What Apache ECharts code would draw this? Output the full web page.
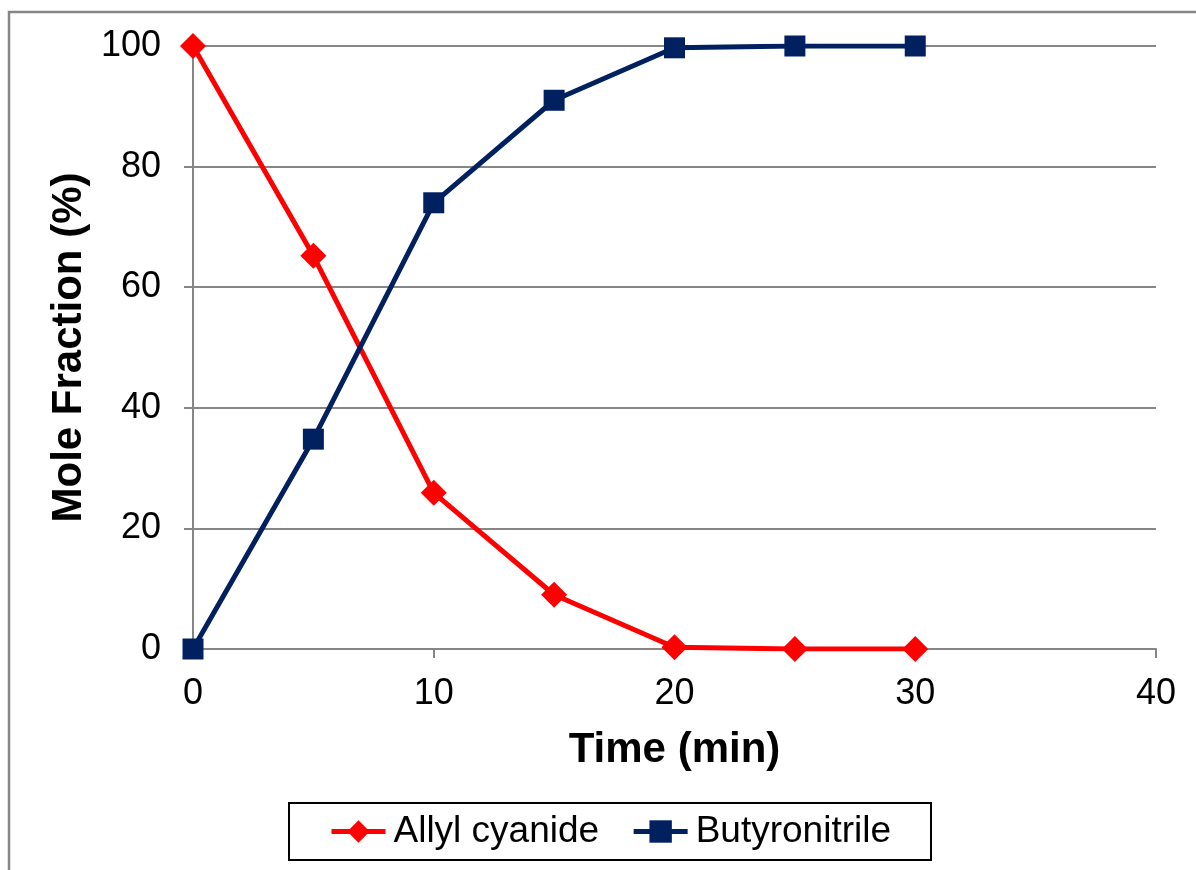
<!DOCTYPE html>
<html>
<head>
<meta charset="utf-8">
<script src="https://cdn.jsdelivr.net/npm/echarts@6/dist/echarts.min.js"></script>
<style>
	html, body { margin: 0; padding: 0; background: #fff; }
	#chart { width: 1196px; height: 870px; }
</style>
</head>
<body>
<div id="chart"></div>
<script>
	// time points (min)
	var times = [0, 5, 10, 15, 20, 25, 30];
	// mole fraction (%)
	var allylCyanide = [100, 65.2, 25.9, 9.0, 0.3, 0, 0];
	var butyronitrile = [0, 34.8, 74.0, 91.0, 99.7, 100, 100];

	function pairs(ys) {
		return times.map(function (t, i) { return [t, ys[i]]; });
	}

	var font = "'Liberation Sans', Arial, sans-serif";
	var myChart = echarts.init(document.getElementById('chart'), null, { renderer: 'canvas' });
	myChart.setOption({
		animation: false,
		backgroundColor: '#fff',
		textStyle: { fontFamily: font },
		graphic: [
			{
				type: 'rect',
				shape: { x: 9, y: 12, width: 1300, height: 1000 },
				style: { fill: 'none', stroke: '#868686', lineWidth: 2.5 },
				silent: true
			}
		],
		grid: {
			left: 193,
			right: 40,
			top: 46,
			bottom: 221
		},
		legend: {
			left: 289,
			top: 803,
			padding: [10, 40, 10, 40],
			itemGap: 32,
			itemWidth: 54,
			itemHeight: 28,
			borderColor: '#000',
			borderWidth: 2,
			lineStyle: { width: 5 },
			textStyle: { fontSize: 37, color: '#000', fontFamily: font, padding: [0, 0, 0, 3] },
			data: ['Allyl cyanide', 'Butyronitrile']
		},
		xAxis: {
			type: 'value',
			min: 0,
			max: 40,
			interval: 10,
			name: 'Time (min)',
			nameLocation: 'middle',
			nameGap: 80,
			nameTextStyle: { fontSize: 42, fontWeight: 'bold', color: '#000', fontFamily: font },
			axisLine: { show: true, lineStyle: { color: '#868686', width: 2 } },
			axisTick: { show: true, length: 9, inside: false, lineStyle: { color: '#868686', width: 2 } },
			axisLabel: { fontSize: 36, color: '#000', margin: 27, fontFamily: font },
			splitLine: { show: false }
		},
		yAxis: {
			type: 'value',
			min: 0,
			max: 100,
			interval: 20,
			name: 'Mole Fraction (%)',
			nameLocation: 'middle',
			nameGap: 102,
			nameTextStyle: { fontSize: 42, fontWeight: 'bold', color: '#000', fontFamily: font },
			axisLine: { show: true, lineStyle: { color: '#868686', width: 2 } },
			axisTick: { show: true, length: 9, inside: false, lineStyle: { color: '#868686', width: 2 } },
			axisLabel: { fontSize: 36, color: '#000', margin: 32, fontFamily: font },
			splitLine: { show: true, lineStyle: { color: '#868686', width: 2 } }
		},
		series: [
			{
				name: 'Allyl cyanide',
				type: 'line',
				data: pairs(allylCyanide),
				symbol: 'diamond',
				symbolSize: [26, 26],
				color: '#FF0000',
				lineStyle: { width: 5, color: '#FF0000' },
				itemStyle: { color: '#FF0000' },
				z: 3
			},
			{
				name: 'Butyronitrile',
				type: 'line',
				data: pairs(butyronitrile),
				symbol: 'rect',
				symbolSize: [21, 21],
				color: '#002060',
				lineStyle: { width: 5, color: '#002060' },
				itemStyle: { color: '#002060' },
				z: 4
			}
		]
	});
</script>
</body>
</html>
